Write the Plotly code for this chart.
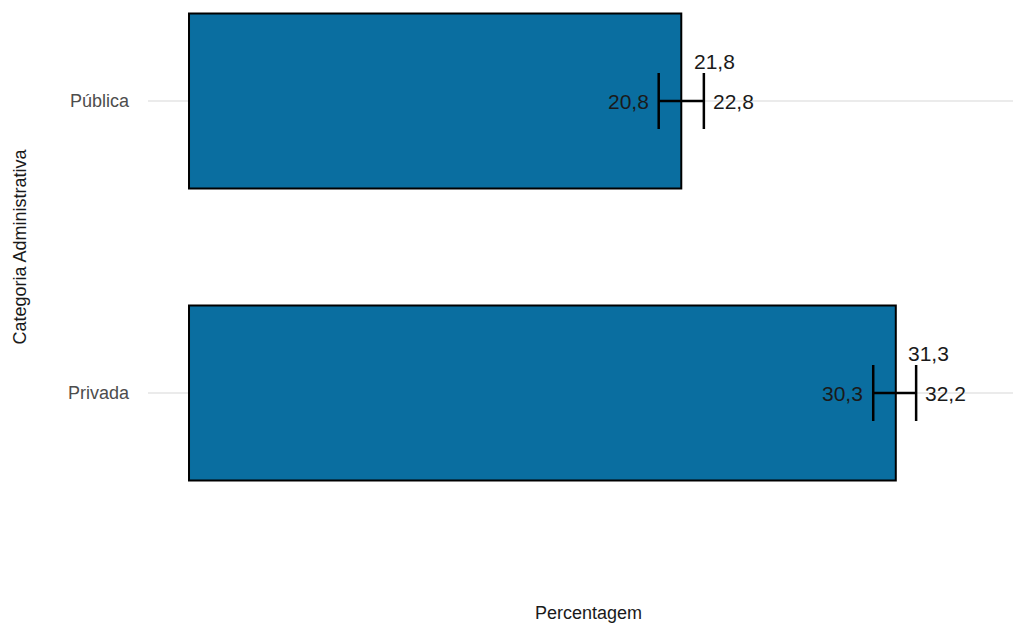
import plotly.graph_objects as go

categories = ["Privada", "Pública"]
values = [31.3, 21.8]
lower = [30.3, 20.8]
upper = [32.2, 22.8]


def fmt(v):
    return f"{v:.1f}".replace(".", ",")


fig = go.Figure()
fig.add_trace(go.Bar(
    y=categories, x=values, orientation="h", width=0.6,
    marker=dict(color="#0A6EA0", line=dict(color="#000000", width=2)),
    error_x=dict(type="data", symmetric=False,
                 array=[u - v for u, v in zip(upper, values)],
                 arrayminus=[v - l for v, l in zip(values, lower)],
                 color="#000000", thickness=2.5, width=28),
    hoverinfo="skip", showlegend=False,
))

lab_font = dict(family="Liberation Sans, Arial, sans-serif", size=21, color="#1a1a1a")
for c, v, lo, up in zip(categories, values, lower, upper):
    fig.add_annotation(x=v, y=c, text=fmt(v), showarrow=False, xanchor="center",
                       yanchor="middle", xshift=33, yshift=40, font=lab_font)
    fig.add_annotation(x=lo, y=c, text=fmt(lo), showarrow=False, xanchor="right",
                       yanchor="middle", xshift=-8, font=lab_font)
    fig.add_annotation(x=up, y=c, text=fmt(up), showarrow=False, xanchor="left",
                       yanchor="middle", xshift=7, font=lab_font)

title_font = dict(family="Liberation Sans, Arial, sans-serif", size=18, color="#1a1a1a")
fig.add_annotation(xref="paper", yref="paper", x=-0.1474, y=0.5607,
                   text="Categoria Administrativa", textangle=-90, showarrow=False,
                   xanchor="center", yanchor="middle", font=title_font)
fig.add_annotation(xref="paper", yref="paper", x=0.5098, y=-0.0946,
                   text="Percentagem", showarrow=False,
                   xanchor="center", yanchor="middle", font=title_font)

fig.update_layout(
    width=1013, height=625,
    margin=dict(l=148, r=0, t=0, b=65),
    paper_bgcolor="white", plot_bgcolor="white",
    xaxis=dict(range=[-1.816, 36.49], showgrid=False, zeroline=False,
               showticklabels=False, ticks="", showline=False),
    yaxis=dict(type="category", categoryorder="array", categoryarray=categories,
               range=[-0.5719, 1.3459], showgrid=True, gridcolor="#EBEBEB",
               gridwidth=1.5, zeroline=False, ticks="", showline=False,
               ticklabelstandoff=18,
               tickfont=dict(family="Liberation Sans, Arial, sans-serif", size=18,
                             color="#4D4D4D")),
)

fig.write_html("out.html")
